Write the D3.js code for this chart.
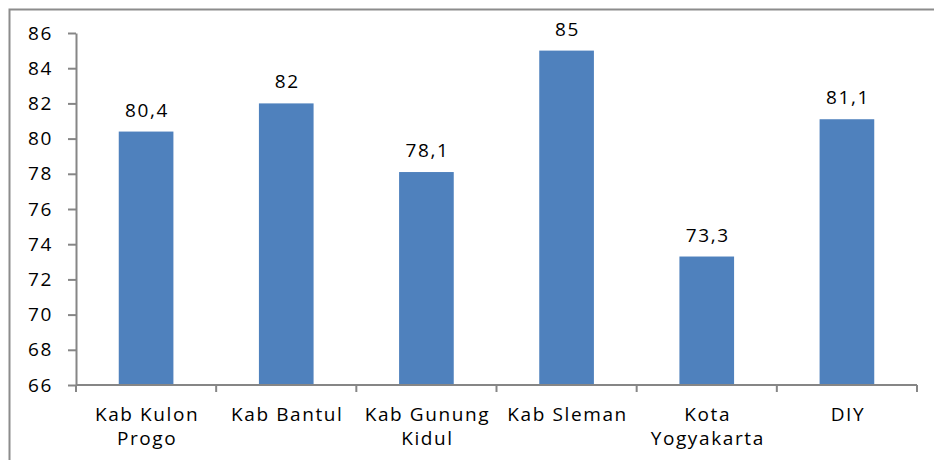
<!DOCTYPE html>
<html>
<head>
<meta charset="utf-8">
<script src="https://cdn.jsdelivr.net/npm/d3@7"></script>
<style>
  body { margin: 0; background: #fff; }
  svg text { font-family: "Open Sans", sans-serif; fill: #000; font-size: 19px; letter-spacing: 1.6px; }
</style>
</head>
<body>
<div id="chart"></div>
<script>
const categories = [
  ["Kab Kulon", "Progo"],
  ["Kab Bantul"],
  ["Kab Gunung", "Kidul"],
  ["Kab Sleman"],
  ["Kota", "Yogyakarta"],
  ["DIY"]
];
const values = [80.4, 82, 78.1, 85, 73.3, 81.1];
const valueLabels = ["80,4", "82", "78,1", "85", "73,3", "81,1"];
const yTicks = [66, 68, 70, 72, 74, 76, 78, 80, 82, 84, 86];

const W = 934, H = 460;
const margin = {top: 33, right: 17, bottom: 75, left: 76};

const svg = d3.select("#chart").append("svg")
    .attr("width", W).attr("height", H);

// outer frame
svg.append("rect")
    .attr("x", 9.5).attr("y", 9.5)
    .attr("width", W + 20).attr("height", H + 20)
    .attr("fill", "none").attr("stroke", "#8c8c8c").attr("stroke-width", 2);

const x = d3.scaleBand()
    .domain(d3.range(values.length))
    .range([margin.left, W - margin.right])
    .paddingInner(0.61).paddingOuter(0.305);

const y = d3.scaleLinear()
    .domain([66, 86])
    .range([H - margin.bottom, margin.top]);

const g = svg.append("g");

g.selectAll("rect.bar").data(values).join("rect")
    .attr("class", "bar")
    .attr("x", (d, i) => x(i))
    .attr("y", d => y(d))
    .attr("width", x.bandwidth())
    .attr("height", d => y(66) - y(d))
    .attr("fill", "#4f81bd");

g.selectAll("text.val").data(values).join("text")
    .attr("class", "val")
    .attr("x", (d, i) => x(i) + x.bandwidth() / 2 + 1)
    .attr("y", d => y(d) - 15)
    .attr("text-anchor", "middle")
    .text((d, i) => valueLabels[i]);

// y axis
const yAxis = g.append("g")
    .attr("transform", `translate(${margin.left},0)`)
    .call(d3.axisLeft(y).tickValues(yTicks).tickSize(8).tickSizeOuter(0).tickPadding(15));
yAxis.attr("font-size", null).attr("font-family", null);
yAxis.selectAll("text").attr("fill", "#000");
yAxis.selectAll("line, path").attr("stroke", "#868686").attr("stroke-width", 2);

// x axis
const step = x.step();
const xb = g.append("g");
xb.append("line")
    .attr("x1", margin.left).attr("x2", W - margin.right)
    .attr("y1", y(66)).attr("y2", y(66))
    .attr("stroke", "#868686").attr("stroke-width", 2);
xb.selectAll("line.tk").data(d3.range(values.length + 1)).join("line")
    .attr("class", "tk")
    .attr("x1", i => margin.left + i * step).attr("x2", i => margin.left + i * step)
    .attr("y1", y(66)).attr("y2", y(66) + 7)
    .attr("stroke", "#868686").attr("stroke-width", 2);

xb.selectAll("text.cat").data(categories).join("text")
    .attr("class", "cat")
    .attr("text-anchor", "middle")
    .each(function(lines, i) {
      const t = d3.select(this);
      lines.forEach((s, j) => {
        t.append("tspan")
          .attr("x", x(i) + x.bandwidth() / 2 + 1)
          .attr("y", y(66) + 36 + j * 24)
          .text(s);
      });
    });
</script>
</body>
</html>
